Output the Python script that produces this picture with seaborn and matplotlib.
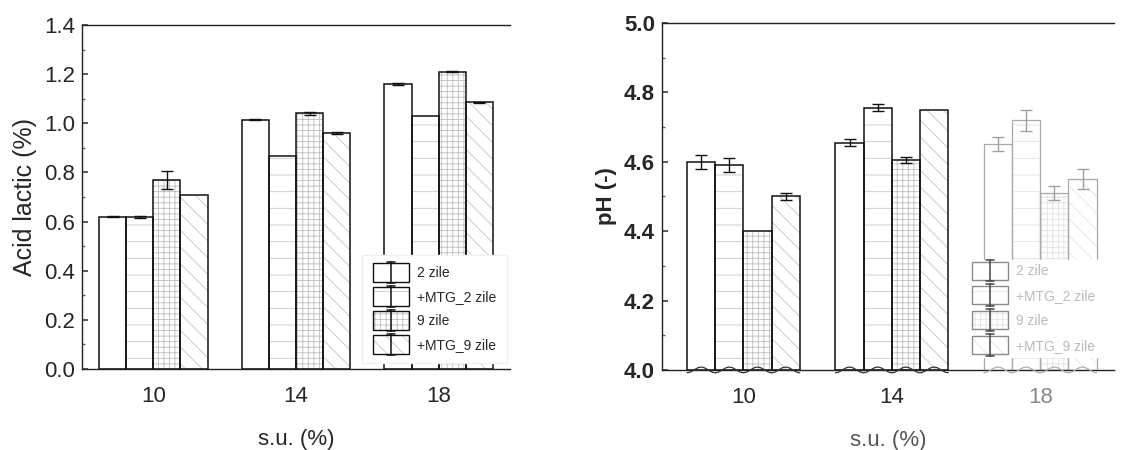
import numpy as np
import pandas as pd
import matplotlib
matplotlib.use("Agg")
import matplotlib.pyplot as plt
from matplotlib.patches import Rectangle
from matplotlib.lines import Line2D
from matplotlib.ticker import MultipleLocator, FormatStrFormatter
import seaborn as sns

# ---- data -------------------------------------------------------------
su_levels = ["10", "14", "18"]
series = ["2 zile", "+MTG_2 zile", "9 zile", "+MTG_9 zile"]

lactic_2z = [0.62, 1.015, 1.16]
lactic_mtg2z = [0.62, 0.865, 1.03]
lactic_9z = [0.77, 1.04, 1.21]
lactic_mtg9z = [0.71, 0.96, 1.085]
lactic_err_2z = [0.003, 0.003, 0.004]
lactic_err_mtg2z = [0.004, 0.0, 0.0]
lactic_err_9z = [0.037, 0.006, 0.003]
lactic_err_mtg9z = [0.0, 0.003, 0.002]

ph_2z = [4.60, 4.655, 4.65]
ph_mtg2z = [4.59, 4.755, 4.72]
ph_9z = [4.40, 4.605, 4.51]
ph_mtg9z = [4.50, 4.75, 4.55]
ph_err_2z = [0.02, 0.01, 0.02]
ph_err_mtg2z = [0.02, 0.01, 0.03]
ph_err_9z = [0.0, 0.008, 0.02]
ph_err_mtg9z = [0.01, 0.0, 0.03]

# ---- styling ----------------------------------------------------------
sns.set_theme(style="ticks")
plt.rcParams["font.family"] = ["Liberation Sans", "DejaVu Sans"]
plt.rcParams["hatch.linewidth"] = 0.6

hatches = ["", "-", "+++", "\\\\"]
hatch_cols = ["white", "#c8c8c8", "#bdbdbd", "#c4c4c4"]


def long_table(vals, errs):
    rows = []
    for s, v_list, e_list in zip(series, vals, errs):
        for su, v, e in zip(su_levels, v_list, e_list):
            rows.append({"su": su, "serie": s, "val": v, "err": e})
    return pd.DataFrame(rows)


def draw_panel(ax, df, faded_group=None, wavy=False, ymin=0.0):
    sns.barplot(data=df, x="su", y="val", hue="serie", order=su_levels,
                hue_order=series, palette=["white"] * 4, width=0.76,
                errorbar=None, linewidth=0, legend=False, ax=ax)
    bar_sets = list(ax.containers)[:4]
    for i, cont in enumerate(bar_sets):
        sub = df[df["serie"] == series[i]].set_index("su").loc[su_levels]
        for j, bar in enumerate(cont):
            faded = faded_group is not None and j == faded_group
            bar.set_hatch(hatches[i])
            bar.set_edgecolor(hatch_cols[i] if not faded else "#e2e2e2")
            bar.set_linewidth(0)
            x0, w = bar.get_x(), bar.get_width()
            top = bar.get_height()
            ax.add_patch(Rectangle((x0, ymin), w, top - ymin, fill=False,
                                   ec="#a8a8a8" if faded else "#111111",
                                   lw=0.9 if faded else 1.1, zorder=3))
            if wavy:
                # axis-break wave along the bottom of each bar
                t = np.linspace(0, 1, 50)
                amp = 0.008
                ax.plot(x0 + w * t, ymin + amp * np.cos(2 * np.pi * (t - 0.5)),
                        color="#b0b0b0" if faded else "#333333", lw=0.9,
                        clip_on=False, zorder=4)
            e = sub["err"].iloc[j]
            if e > 0:
                ax.errorbar(x0 + w / 2, top, yerr=e, fmt="none",
                            ecolor="#a0a0a0" if faded else "#111111",
                            elinewidth=1.0, capsize=4, capthick=1.0, zorder=5)


class BarErrHandle:
    def __init__(self, hatch, hatch_col, outline, bar_col):
        self.hatch = hatch
        self.hatch_col = hatch_col
        self.outline = outline
        self.bar_col = bar_col


class BarErrHandler:
    """Legend key: a hatched bar with a vertical error bar through it."""

    def legend_artist(self, legend, orig, fontsize, handlebox):
        x0, y0 = handlebox.xdescent, handlebox.ydescent
        w, h = handlebox.width, handlebox.height
        tr = handlebox.get_transform()
        cy = y0 + h / 2
        bh = 1.3 * fontsize
        by = cy - bh / 2
        fillp = Rectangle((x0, by), w, bh, facecolor="white",
                          edgecolor=orig.hatch_col, hatch=orig.hatch,
                          lw=0, transform=tr)
        outp = Rectangle((x0, by), w, bh, fill=False, edgecolor=orig.outline,
                         lw=1.0, transform=tr)
        cx = x0 + w / 2
        ext = 0.1 * bh
        lo, hi = by - ext, by + bh + ext
        vline = Line2D([cx, cx], [lo, hi], color=orig.bar_col, lw=1.1,
                       transform=tr)
        caps = Line2D([cx - 3, cx + 3, np.nan, cx - 3, cx + 3],
                      [lo, lo, np.nan, hi, hi],
                      color=orig.bar_col, lw=1.1, transform=tr)
        for a in (fillp, outp, vline, caps):
            handlebox.add_artist(a)
        return outp


fig = plt.figure(figsize=(11.43, 4.5), dpi=100)
ax1 = fig.add_axes([0.0717, 0.18, 0.3745, 0.7644])
ax2 = fig.add_axes([0.579, 0.178, 0.396, 0.771])

# ---- left: lactic acid ------------------------------------------------
df1 = long_table([lactic_2z, lactic_mtg2z, lactic_9z, lactic_mtg9z],
                 [lactic_err_2z, lactic_err_mtg2z, lactic_err_9z, lactic_err_mtg9z])
ax1.set_ylim(0, 1.4)
ax1.set_xlim(-0.5, 2.5)
draw_panel(ax1, df1)
ax1.set_xlim(-0.5, 2.5)
ax1.set_ylim(0, 1.4)
ax1.yaxis.set_major_locator(MultipleLocator(0.2))
ax1.yaxis.set_minor_locator(MultipleLocator(0.1))
ax1.yaxis.set_major_formatter(FormatStrFormatter("%.1f"))
ax1.set_ylabel("Acid lactic (%)", fontsize=18, labelpad=5)
ax1.set_xlabel("s.u. (%)", fontsize=16, labelpad=16)

# ---- right: pH --------------------------------------------------------
df2 = long_table([ph_2z, ph_mtg2z, ph_9z, ph_mtg9z],
                 [ph_err_2z, ph_err_mtg2z, ph_err_9z, ph_err_mtg9z])
ax2.set_ylim(4.0, 5.0)
ax2.set_xlim(-0.55, 2.5)
draw_panel(ax2, df2, faded_group=2, wavy=True, ymin=4.0)
ax2.set_ylim(4.0, 5.0)
ax2.set_xlim(-0.55, 2.5)
ax2.yaxis.set_major_locator(MultipleLocator(0.2))
ax2.yaxis.set_minor_locator(MultipleLocator(0.1))
ax2.yaxis.set_major_formatter(FormatStrFormatter("%.1f"))
ax2.set_ylabel("pH (-)", fontsize=16, fontweight="bold", labelpad=5)
ax2.set_xlabel("s.u. (%)", fontsize=16, labelpad=16, color="#555555")

for ax in (ax1, ax2):
    for side in ("top", "left", "bottom"):
        ax.spines[side].set_visible(True)
        ax.spines[side].set_linewidth(1.0)
        ax.spines[side].set_color("#222222")
    ax.spines["right"].set_visible(False)
    ax.tick_params(axis="y", which="major", direction="in", length=4,
                   labelsize=16, pad=5, color="#444444")
    ax.tick_params(axis="y", which="minor", direction="in", length=2,
                   color="#666666")
    ax.tick_params(axis="x", length=0, labelsize=16, pad=12)

for lbl in ax2.get_yticklabels():
    lbl.set_fontweight("bold")
ax2.get_xticklabels()[2].set_color("#888888")

# ---- legends ----------------------------------------------------------
left_handles = [BarErrHandle(hatches[i], hatch_cols[i], "#111111", "#111111")
                for i in range(4)]
leg1 = ax1.legend(left_handles, series,
                  handler_map={BarErrHandle: BarErrHandler()},
                  loc="lower right", bbox_to_anchor=(1.0, 0.008),
                  fontsize=10, frameon=True, fancybox=False,
                  handlelength=2.6, handleheight=0.7, labelspacing=0.72,
                  handletextpad=0.55, borderpad=0.8, borderaxespad=0.2)
leg1.get_frame().set_edgecolor("#f0f0f0")
leg1.get_frame().set_alpha(1.0)
leg1.set_zorder(10)

right_handles = [BarErrHandle(hatches[i], "#e4e4e4", "#8a8a8a", "#444444")
                 for i in range(4)]
leg2 = ax2.legend(right_handles, series,
                  handler_map={BarErrHandle: BarErrHandler()},
                  loc="lower left", bbox_to_anchor=(0.66, 0.018),
                  fontsize=10, frameon=True, fancybox=False,
                  handlelength=2.6, handleheight=0.7, labelspacing=0.77,
                  handletextpad=0.6, borderpad=0.3, labelcolor="#bbbbbb")
leg2.get_frame().set_edgecolor("white")
leg2.get_frame().set_alpha(1.0)
leg2.set_zorder(10)

fig.savefig("out.png", dpi=100)
